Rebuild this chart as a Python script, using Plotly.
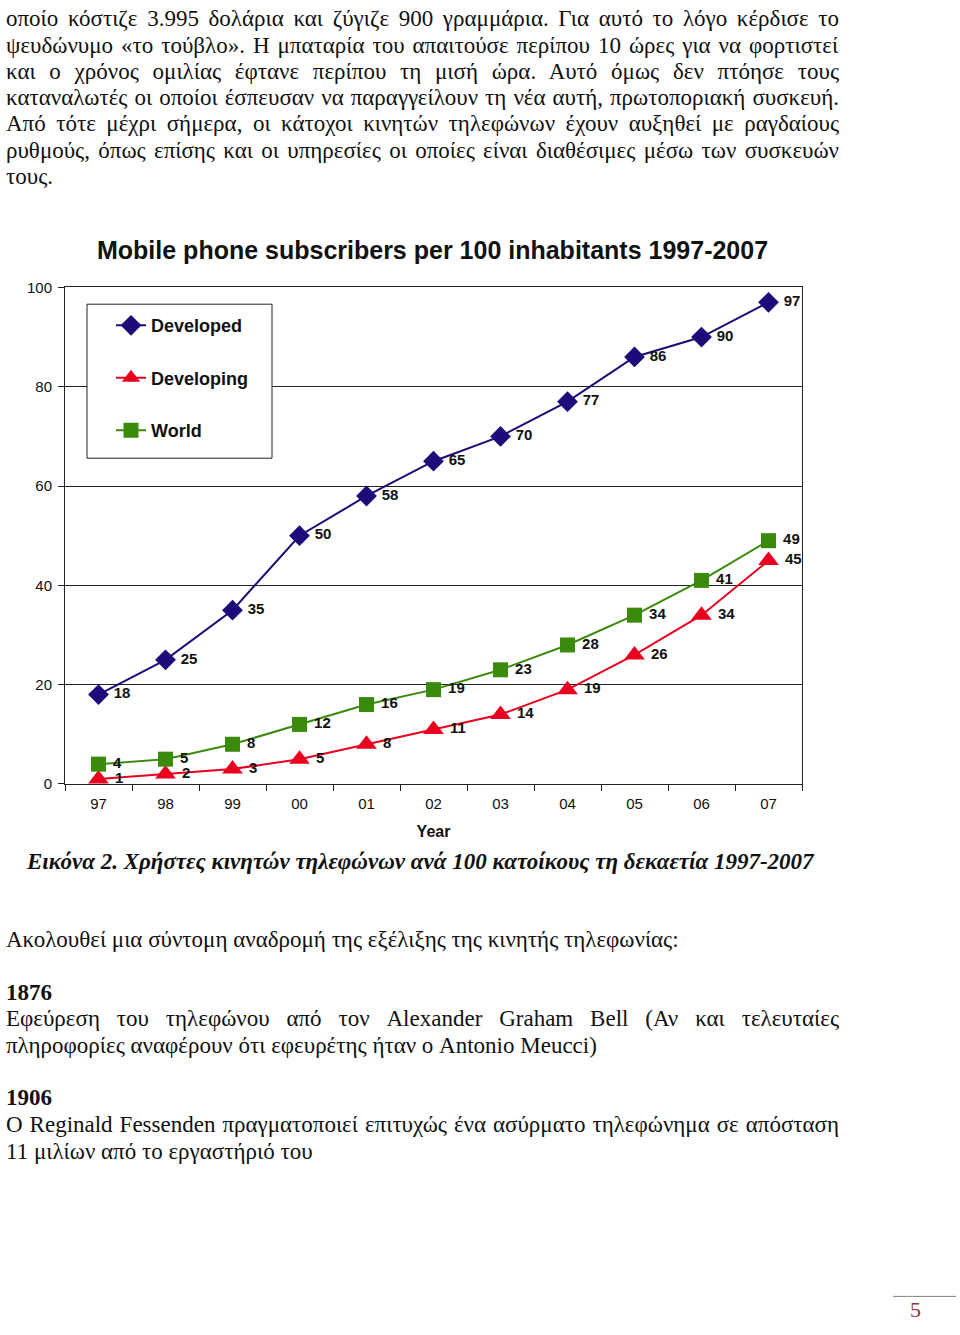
import json
import plotly.graph_objects as go

W, H = 960, 1335

years = ["97", "98", "99", "00", "01", "02", "03", "04", "05", "06", "07"]
developed = [18, 25, 35, 50, 58, 65, 70, 77, 86, 90, 97]
developing = [1, 2, 3, 5, 8, 11, 14, 19, 26, 34, 45]
world = [4, 5, 8, 12, 16, 19, 23, 28, 34, 41, 49]
y_ticks = [0, 20, 40, 60, 80, 100]

title = "Mobile phone subscribers per 100 inhabitants 1997-2007"

top_lines = [
    "οποίο κόστιζε 3.995 δολάρια και ζύγιζε 900 γραμμάρια. Για αυτό το λόγο κέρδισε το",
    "ψευδώνυμο «το τούβλο». Η μπαταρία του απαιτούσε περίπου 10 ώρες για να φορτιστεί",
    "και ο χρόνος ομιλίας έφτανε περίπου τη μισή ώρα. Αυτό όμως δεν πτόησε τους",
    "καταναλωτές οι οποίοι έσπευσαν να παραγγείλουν τη νέα αυτή, πρωτοποριακή συσκευή.",
    "Από τότε μέχρι σήμερα, οι κάτοχοι κινητών τηλεφώνων έχουν αυξηθεί με ραγδαίους",
    "ρυθμούς, όπως επίσης και οι υπηρεσίες οι οποίες είναι διαθέσιμες μέσω των συσκευών",
    "τους.",
]
caption = "Εικόνα 2. Χρήστες κινητών τηλεφώνων ανά 100 κατοίκους τη δεκαετία 1997-2007"
bottom_lines = [
    ("Ακολουθεί μια σύντομη αναδρομή της εξέλιξης της κινητής τηλεφωνίας:", False, 946),
    ("1876", True, 999),
    ("Εφεύρεση του τηλεφώνου από τον Alexander Graham Bell (Αν και τελευταίες", False, 1026),
    ("πληροφορίες αναφέρουν ότι εφευρέτης ήταν ο Antonio Meucci)", False, 1053),
    ("1906", True, 1106),
    ("Ο Reginald Fessenden πραγματοποιεί επιτυχώς ένα ασύρματο τηλεφώνημα σε απόσταση", False, 1133),
    ("11 μιλίων από το εργαστήριό του", False, 1160),
]
page_no = "5"

justified = top_lines[:6] + [bottom_lines[2][0], bottom_lines[5][0]]


def px(x):
    return x / W


def py(y):
    return 1 - y / H


SANS = "Liberation Sans, Arial, sans-serif"
SERIF = "Liberation Serif, Times New Roman, serif"

C_DEV = "#1e0a78"
C_DVG = "#e8001e"
C_WLD = "#3a8a0c"

TXT_DY = -3  # visual centre correction for serif text lines

fig = go.Figure()


def add(name, vals, color, symbol, size):
    fig.add_trace(go.Scatter(
        x=years, y=vals, name=name, legendgroup=name,
        mode="lines+markers+text",
        line=dict(color=color, width=2),
        marker=dict(symbol=symbol, size=size, color=color),
        text=[" " + str(v) for v in vals],
        textposition="middle right",
        textfont=dict(family=SANS, size=15, color="#111111", weight="bold"),
        cliponaxis=False,
        hoverinfo="skip",
    ))


add("Developed", developed, C_DEV, "diamond", 16)
add("Developing", developing, C_DVG, "triangle-up", 18)
add("World", world, C_WLD, "square", 15)

fig.update_layout(
    width=W, height=H,
    margin=dict(l=0, r=0, t=0, b=0),
    paper_bgcolor="white", plot_bgcolor="white",
    showlegend=True,
    legend=dict(
        x=px(111), y=py(302), xanchor="left", yanchor="top",
        bgcolor="rgba(0,0,0,0)", borderwidth=0,
        font=dict(family=SANS, size=18, color="#111111", weight="bold"),
        traceorder="grouped", tracegroupgap=26,
    ),
    xaxis=dict(
        domain=[px(65), px(802)],
        type="category", range=[-0.5, 10.5],
        tickson="boundaries", ticks="outside", ticklen=6, tickcolor="#222",
        showline=True, linecolor="#222", linewidth=1, mirror=True,
        showgrid=False, zeroline=False, ticklabelstandoff=6,
        tickfont=dict(family=SANS, size=15, color="#111"),
        title=dict(text="<b>Year</b>", font=dict(family=SANS, size=16, color="#111"), standoff=14),
    ),
    yaxis=dict(
        domain=[py(785), py(282)],
        range=[0, 100], tickvals=y_ticks,
        ticks="outside", ticklen=6, tickcolor="#222",
        showline=True, linecolor="#222", linewidth=1, mirror=True,
        showgrid=True, gridcolor="#222", gridwidth=1, zeroline=False,
        ticklabelstandoff=3,
        tickfont=dict(family=SANS, size=15, color="#111"),
    ),
)

# legend box (white, hides the gridline behind it)
fig.add_shape(type="rect", xref="paper", yref="paper",
              x0=px(87), x1=px(272), y0=py(455), y1=py(299),
              line=dict(color="#222", width=1), fillcolor="white", layer="above")

# chart title
fig.add_annotation(text="<b>" + title + "</b>", x=px(432), y=py(244), xref="paper", yref="paper",
                   xanchor="center", yanchor="middle", showarrow=False,
                   font=dict(family=SANS, size=25, color="#111"))

# top paragraph
for i, line in enumerate(top_lines):
    fig.add_annotation(text=line, x=px(4), y=py(13 + i * 26.6 + TXT_DY), xref="paper", yref="paper",
                       xanchor="left", yanchor="middle", showarrow=False,
                       font=dict(family=SERIF, size=23, color="#111"))

# caption
fig.add_annotation(text="<b><i>" + caption + "</i></b>", x=px(24), y=py(866 + TXT_DY),
                   xref="paper", yref="paper",
                   xanchor="left", yanchor="middle", showarrow=False,
                   font=dict(family=SERIF, size=23, color="#111"))

for text, bold, yy in bottom_lines:
    fig.add_annotation(text=("<b>" + text + "</b>") if bold else text, x=px(4), y=py(yy + TXT_DY),
                       xref="paper", yref="paper", xanchor="left", yanchor="middle", showarrow=False,
                       font=dict(family=SERIF, size=23, color="#111"))

# page number
fig.add_shape(type="line", xref="paper", yref="paper", x0=px(893), x1=px(956), y0=py(1304), y1=py(1304),
              line=dict(color="#808080", width=1))
fig.add_annotation(text=page_no, x=px(915), y=py(1317), xref="paper", yref="paper",
                   xanchor="center", yanchor="middle", showarrow=False,
                   font=dict(family=SERIF, size=22, color="#943634"))

post = """
document.body.style.margin = '0';
var gd = document.getElementById('{plot_id}');
var J = __J__;
var target = 833;
var ts = gd.querySelectorAll('text.annotation-text');
for (var i = 0; i < ts.length; i++) {
  var t = ts[i];
  if (J.indexOf(t.textContent) < 0) continue;
  var b0 = t.getBBox();
  var n = (t.textContent.match(/ /g) || []).length;
  var extra = target - b0.width;
  if (!n || extra <= 0) continue;
  t.style.wordSpacing = (extra / n) + 'px';
  var b1 = t.getBBox();
  if (b1.width - b0.width < extra / 2) {
    t.style.wordSpacing = '';
    t.setAttribute('textLength', target);
    t.setAttribute('lengthAdjust', 'spacing');
    b1 = t.getBBox();
  }
  var x = parseFloat(t.getAttribute('x') || '0');
  t.setAttribute('x', x + (b0.x - b1.x));
}
""".replace("__J__", json.dumps(justified, ensure_ascii=False))

fig.write_html("out.html", post_script=post, config={"displayModeBar": False})
